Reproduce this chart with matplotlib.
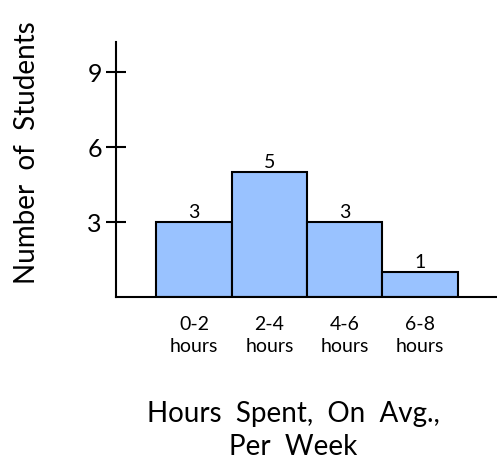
import matplotlib
matplotlib.use("Agg")
from matplotlib import pyplot as plt

bins = ["0-2\nhours", "2-4\nhours", "4-6\nhours", "6-8\nhours"]
students = [3, 5, 3, 1]
yticks = [3, 6, 9]

plt.rcParams['font.family'] = ['Lato', 'DejaVu Sans']

fig = plt.figure(figsize=(4.97, 4.63), dpi=100)
ax = fig.add_axes([0.233, 0.3585, 0.767, 0.5505])

pos = list(range(len(bins)))
bars = ax.bar(pos, students, width=1.0, color='#99c2ff', edgecolor='black', linewidth=1.5)
for p, v in zip(pos, students):
    ax.text(p, v + 0.05, str(v), ha='center', va='bottom', fontsize=14)

ax.set_xlim(-1.04, 4.02)
ax.set_ylim(0, 10.2)
ax.set_yticks(yticks)
ax.set_yticklabels([str(t) for t in yticks], fontsize=18)
ax.tick_params(axis='y', direction='inout', length=14, width=1.5, pad=3)
ax.set_xticks(pos)
ax.set_xticklabels(bins, fontsize=14, linespacing=1.3)
ax.tick_params(axis='x', length=0, pad=14)

for s in ['top', 'right']:
    ax.spines[s].set_visible(False)
for s in ['left', 'bottom']:
    ax.spines[s].set_linewidth(1.5)

fig.text(0.055, 0.67, "Number  of  Students", rotation=90, ha='center', va='center', fontsize=20)
fig.text(0.59, 0.07, "Hours  Spent,  On  Avg.,\nPer  Week", ha='center', va='center', fontsize=20, linespacing=1.3)

fig.savefig("out.png", dpi=100)
